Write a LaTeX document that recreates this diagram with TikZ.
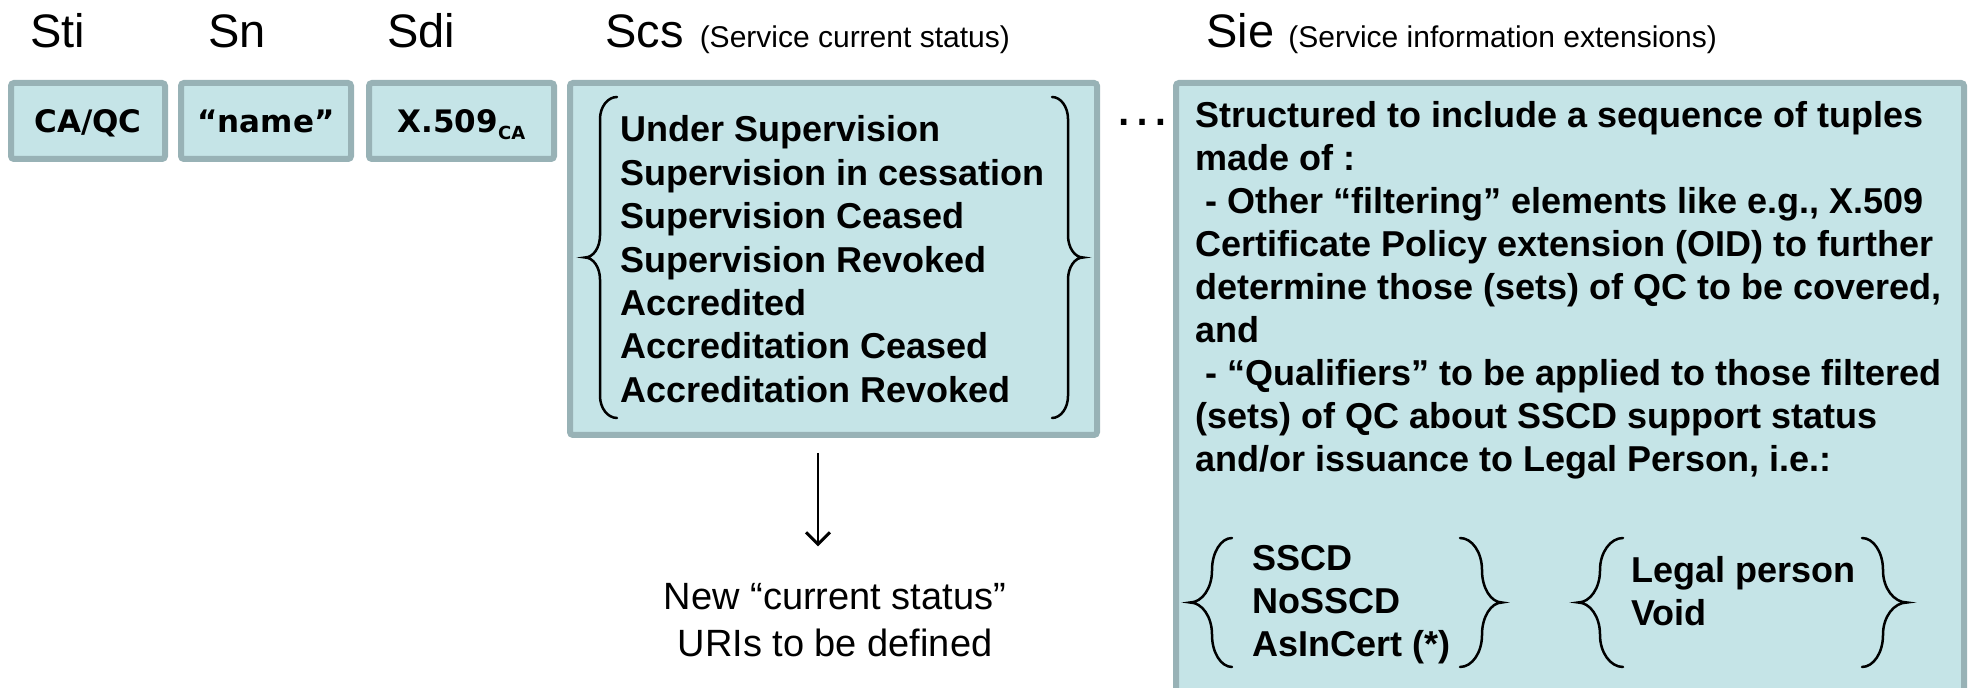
\documentclass[tikz,border=0pt]{standalone}
\usepackage{fontspec}
\setmainfont{Liberation Sans}
\newfontfamily\cellfont{DejaVu Sans}
\usetikzlibrary{positioning, arrows.meta}
\definecolor{cellfill}{RGB}{197,228,231}
\definecolor{cellrim}{RGB}{152,178,182}
\tikzstyle{myarrow} = [-{Straight Barb[length=6pt,width=12pt,line width=1.5pt]}, line width=1pt]
\tikzstyle{cell} = [rectangle, rounded corners=1.5pt, draw=cellrim, fill=cellfill, line width=3pt, minimum height=38pt, inner sep=0pt, text height=15pt, text depth=3pt, font=\cellfont\bfseries\fontsize{15.5}{18}\selectfont]
\tikzstyle{header} = [anchor=base west, inner sep=0pt, font=\fontsize{23.5}{28}\selectfont]
\tikzstyle{entry} = [anchor=base west, inner sep=0pt, font=\bfseries\fontsize{18}{21.5}\selectfont]
\tikzstyle{note} = [anchor=base, inner sep=0pt, font=\fontsize{19}{23.5}\selectfont]
\tikzstyle{curl} = [line width=1.25pt, line cap=round]
% curly brace: x of ends, x of stem, x of tip, y top, y bottom, curl size
\newcommand{\curly}[6]{%
  \draw[curl] (#1,#4) .. controls ({#1+0.55*(#2-#1)},#4) and (#2,{#4-0.45*#6}) .. (#2,#4-#6)
    -- (#2,{(#4+#5)/2+#6}) .. controls (#2,{(#4+#5)/2+0.45*#6}) and ({#3+0.55*(#2-#3)},{(#4+#5)/2}) .. (#3,{(#4+#5)/2})
    .. controls ({#3+0.55*(#2-#3)},{(#4+#5)/2}) and (#2,{(#4+#5)/2-0.45*#6}) .. (#2,{(#4+#5)/2-#6})
    -- (#2,#5+#6) .. controls (#2,{#5+0.45*#6}) and ({#1+0.55*(#2-#1)},#5) .. (#1,#5);}
\begin{document}
\begin{tikzpicture}[x=1pt, y=1pt]
\useasboundingbox (0,0) rectangle (985,344);
\clip (0,0) rectangle (985,344);

% field names
\node (hsti) [header] at (15,320) {Sti};
\node (hsn) [header] at (104,320) {Sn};
\node (hsdi) [header] at (193.5,320) {Sdi};
\node (hscs) [header] at (302.5,320) {Scs\hspace{8pt}{\fontsize{15}{18}\selectfont (Service current status)}};
\node (hsie) [header] at (603,320) {Sie\hspace{7pt}{\fontsize{15}{18}\selectfont (Service information extensions)}};

% field values
\node (sti) [cell, minimum width=77pt] at (44,283.5) {CA/QC};
\node (sn) [cell, minimum width=85pt, right=5pt of sti] {“name”};
\node (sdi) [cell, minimum width=92.5pt, right=6pt of sn] {X.509\raisebox{-3.5pt}{\fontsize{9}{10}\selectfont CA}};
\node (scs) [cell, minimum width=263.5pt, minimum height=176pt, right=5pt of sdi.north east, anchor=north west] {};
\node (sie) [cell, minimum width=394pt, minimum height=327pt, right=36.5pt of scs.north east, anchor=north west] {};
\node (more) [inner sep=0pt, font=\fontsize{29}{30}\selectfont] at (571.25,283) {…};

% status values
\foreach \txt [count=\i from 0] in {Under Supervision, Supervision in cessation, Supervision Ceased, Supervision Revoked, Accredited, Accreditation Ceased, Accreditation Revoked}
  \node (status\i) [entry] at (310,273-21.67*\i) {\txt};
\curly{308.5}{300}{292.5}{295.5}{135}{11}
\curly{526}{534}{541.5}{295.5}{135}{11}

% extension text
\foreach \txt [count=\i from 0] in {Structured to include a sequence of tuples, made of :, {\ - Other “filtering” elements like e.g., X.509}, Certificate Policy extension (OID) to further, {determine those (sets) of QC to be covered,}, and, {\ - “Qualifiers” to be applied to those filtered}, {(sets) of QC about SSCD support status}, {and/or issuance to Legal Person, i.e.:}}
  \node (ext\i) [entry] at (597.5,280-21.5*\i) {\txt};

% qualifiers
\foreach \txt [count=\i from 0] in {SSCD, NoSSCD, {AsInCert (*)}}
  \node (sscd\i) [entry] at (626,58.5-21.5*\i) {\txt};
\foreach \txt [count=\i from 0] in {Legal person, Void}
  \node (legal\i) [entry] at (815.5,52.5-21.5*\i) {\txt};
\curly{616}{606}{595}{75}{10.5}{16}
\curly{730}{741}{751}{75}{10.5}{16}
\curly{811.5}{800}{789}{75}{10.5}{16}
\curly{931}{941.5}{953.5}{75}{10.5}{16}

% new status URIs
\foreach \txt [count=\i from 0] in {New “current status”, URIs to be defined}
  \node (note\i) [note] at (417.5,39-23.5*\i) {\txt};
\draw [myarrow, shorten <=7.5pt, shorten >=18.5pt] ([xshift=-7.75pt]scs.south) -- ([xshift=-7.75pt]scs.south |- note0.north);
\end{tikzpicture}
\end{document}
